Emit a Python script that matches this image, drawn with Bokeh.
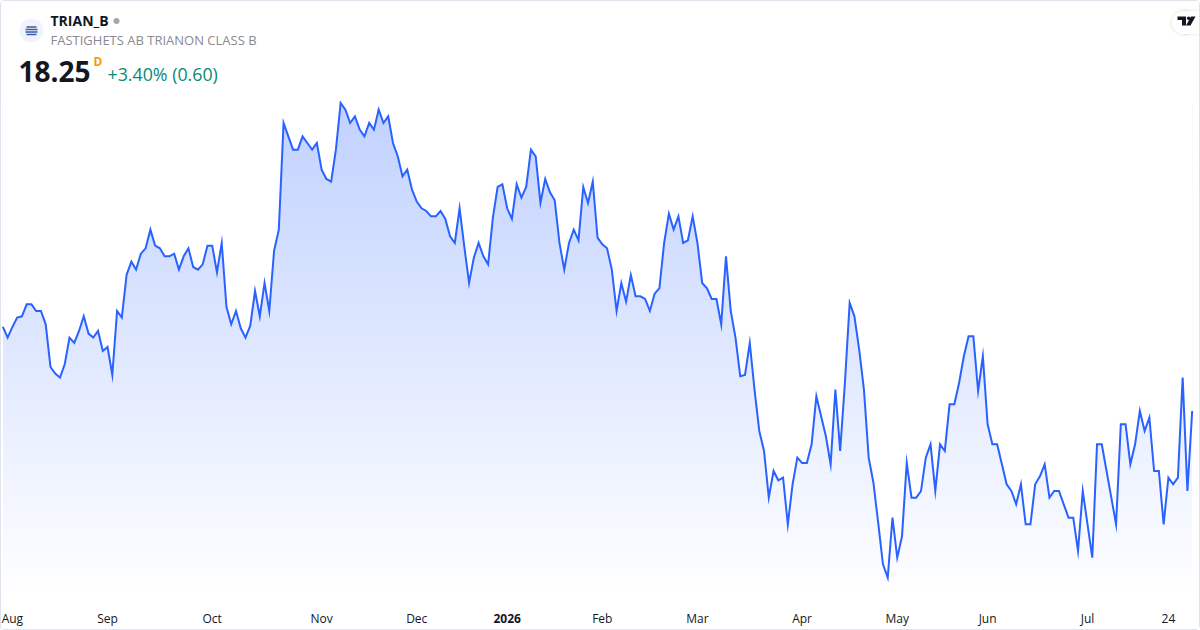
import numpy as np
from bokeh.plotting import figure
from bokeh.embed import file_html
from bokeh.resources import INLINE
from bokeh.models import Range1d, FixedTicker, LinearAxis
from bokeh.core.properties import value

prices = [18.88,18.80,18.88,18.95,18.96,19.05,19.05,19.00,19.00,18.90,18.58,18.53,18.50,18.60,18.80,18.76,18.85,18.96,18.83,18.80,
 18.85,18.70,18.73,18.52,19.00,18.95,19.27,19.37,19.31,19.43,19.47,19.61,19.49,19.47,19.41,19.41,19.43,19.31,19.41,19.47,
 19.33,19.31,19.35,19.49,19.49,19.29,19.51,19.03,18.90,19.00,18.87,18.80,18.89,19.15,18.96,19.21,19.00,19.45,19.61,20.41,
 20.31,20.21,20.21,20.31,20.26,20.21,20.26,20.06,19.99,19.97,20.21,20.56,20.51,20.41,20.46,20.36,20.31,20.41,20.36,20.51,
 20.41,20.46,20.26,20.16,20.01,20.06,19.91,19.82,19.77,19.75,19.71,19.71,19.75,19.69,19.56,19.51,19.77,19.48,19.21,19.40,
 19.51,19.41,19.35,19.70,19.93,19.95,19.77,19.69,19.95,19.85,19.93,20.21,20.16,19.81,19.99,19.89,19.83,19.51,19.31,19.51,
 19.61,19.53,19.93,19.81,19.97,19.55,19.50,19.47,19.31,19.00,19.21,19.07,19.27,19.11,19.11,19.09,19.00,19.13,19.17,19.51,
 19.73,19.61,19.71,19.51,19.53,19.71,19.51,19.21,19.17,19.09,19.09,18.90,19.41,19.00,18.80,18.51,18.52,18.76,18.41,18.10,
 17.95,17.60,17.80,17.73,17.75,17.40,17.70,17.90,17.86,17.86,18.00,18.36,18.21,18.06,17.85,18.41,17.95,18.46,19.06,18.96,
 18.71,18.41,17.90,17.71,17.41,17.10,17.00,17.45,17.15,17.31,17.86,17.60,17.60,17.65,17.90,18.00,17.65,18.00,17.95,18.30,
 18.30,18.46,18.66,18.81,18.81,18.40,18.66,18.15,18.00,18.00,17.85,17.70,17.65,17.55,17.70,17.40,17.40,17.70,17.76,17.85,
 17.60,17.65,17.65,17.55,17.45,17.45,17.20,17.65,17.40,17.15,18.00,18.00,17.80,17.60,17.40,18.15,18.15,17.85,18.00,18.25,
 18.10,18.20,17.80,17.80,17.40,17.75,17.70,17.75,18.50,17.65,18.25]
tick_positions = [2, 22, 44, 67, 87, 126, 146, 168, 188, 207, 228, 245]
tick_labels = ["Aug", "Sep", "Oct", "Nov", "Dec", "Feb", "Mar", "Apr", "May", "Jun", "Jul", "24"]
bold_tick_position = 106
bold_tick_label = "2026"
symbol = "TRIAN_B"
company = "FASTIGHETS AB TRIANON CLASS B"
last_price = "18.25"
interval = "D"
change = "+3.40% (0.60)"

FRAME_BOTTOM = 600
FONT = value("Open Sans")
idx = np.arange(len(prices))
price_arr = np.array(prices)

p = figure(width=1198, frame_height=599, output_backend="svg", toolbar_location=None,
           x_range=Range1d(-0.294, 251.96), y_range=Range1d(16.8285, 21.321),
           min_border_left=0, min_border_right=0, min_border_top=0, min_border_bottom=29,
           x_axis_location="below", y_axis_location=None,
           margin=(0, 0, 0, 0),
           styles={"border": "1px solid #e0e3eb", "border-radius": "4px", "box-sizing": "content-box"})
p.grid.visible = False
p.outline_line_color = None
p.background_fill_color = "white"
p.border_fill_color = "white"
p.extra_x_ranges["px"] = Range1d(1, 1201)
p.extra_y_ranges["px"] = Range1d(FRAME_BOTTOM, 1)


def style_axis(ax, standoff, font_style):
    ax.axis_line_color = None
    ax.major_tick_line_color = None
    ax.minor_tick_line_color = None
    ax.major_label_text_font = "Open Sans"
    ax.major_label_text_font_size = "12px"
    ax.major_label_text_font_style = font_style
    ax.major_label_text_color = "#131722"
    ax.major_label_standoff = standoff


ax = p.xaxis[0]
ax.ticker = FixedTicker(ticks=tick_positions)
ax.major_label_overrides = dict(zip(tick_positions, tick_labels))
style_axis(ax, 3, "normal")

bold_ax = LinearAxis(ticker=FixedTicker(ticks=[bold_tick_position]),
                     major_label_overrides={bold_tick_position: bold_tick_label})
style_axis(bold_ax, -22, "bold")
p.add_layout(bold_ax, "below")

# gradient under the line: horizontal bands, then a white mask above the price
n_bands = 130
edges = np.linspace(price_arr.max(), p.y_range.start, n_bands + 1)
fade = np.linspace(0.29, 0.0, n_bands)
cols = ["#%02x%02x%02x" % (round(255 - a * 214), round(255 - a * 157), 255) for a in fade]
p.quad(left=idx[0], right=idx[-1], top=edges[:-1], bottom=edges[1:] - 0.005, fill_color=cols, line_color=None)
p.varea(x=idx, y1=price_arr, y2=p.y_range.end, fill_color="white")
p.line(idx, price_arr, line_color="#2962ff", line_width=2, line_join="miter")


def px_text(x, y, text, size, color, style="normal"):
    p.text(x=[x], y=[y], text=[text], text_font=FONT, text_font_size=value(f"{size}px"), text_color=color,
           text_font_style=style, text_baseline="alphabetic", text_align="left",
           x_range_name="px", y_range_name="px")


px_text(50, 20, symbol, 14, "#131722", "bold")
px_text(50, 39, company, 13, "#8a8a8f")
px_text(18, 71, last_price, 28, "#131722", "bold")
px_text(93, 61, interval, 12, "#ff9800", "bold")
px_text(107, 73, change, 17.8, "#0a8a74")
p.scatter(x=[116], y=[20.5], size=6, marker="circle", fill_color="#a3a6af", line_color=None,
          x_range_name="px", y_range_name="px")

# symbol badge
p.scatter(x=[31], y=[30], size=24, marker="circle", fill_color="#f0f3fa", line_color=None,
          x_range_name="px", y_range_name="px")
p.multi_line(xs=[[26, 36], [25, 37], [25, 37], [26, 36]], ys=[[26.5, 26.5], [29, 29], [31.5, 31.5], [34, 34]],
             line_color="#3a5aa8", line_width=1.5, x_range_name="px", y_range_name="px")

# attribution pill
for grow, alpha in [(6, 0.012), (4, 0.018), (2, 0.025)]:
    p.scatter(x=[1183], y=[22], size=23 + grow, marker="circle", fill_color="#131722", fill_alpha=alpha,
              line_color=None, x_range_name="px", y_range_name="px")
    p.quad(left=1183, right=1201, top=11 - grow / 2, bottom=33 + grow / 2, fill_color="#131722", fill_alpha=alpha,
           line_color=None, x_range_name="px", y_range_name="px")
p.scatter(x=[1183], y=[22], size=23, marker="circle", fill_color="white", line_color=None,
          x_range_name="px", y_range_name="px")
p.quad(left=1183, right=1201, top=10.5, bottom=33.5, fill_color="white", line_color=None,
       x_range_name="px", y_range_name="px")
p.patches(xs=[[1177, 1185.5, 1185.5, 1181.5, 1181.5, 1177], [1190.5, 1195, 1190, 1185.5]],
          ys=[[16, 16, 25, 25, 19.5, 19.5], [16, 16, 25, 25]],
          fill_color="#131722", line_color=None, x_range_name="px", y_range_name="px")
p.scatter(x=[1188.2], y=[17.8], size=3.6, marker="circle", fill_color="#131722", line_color=None,
          x_range_name="px", y_range_name="px")

open("out.html", "w").write(file_html(p, INLINE))
